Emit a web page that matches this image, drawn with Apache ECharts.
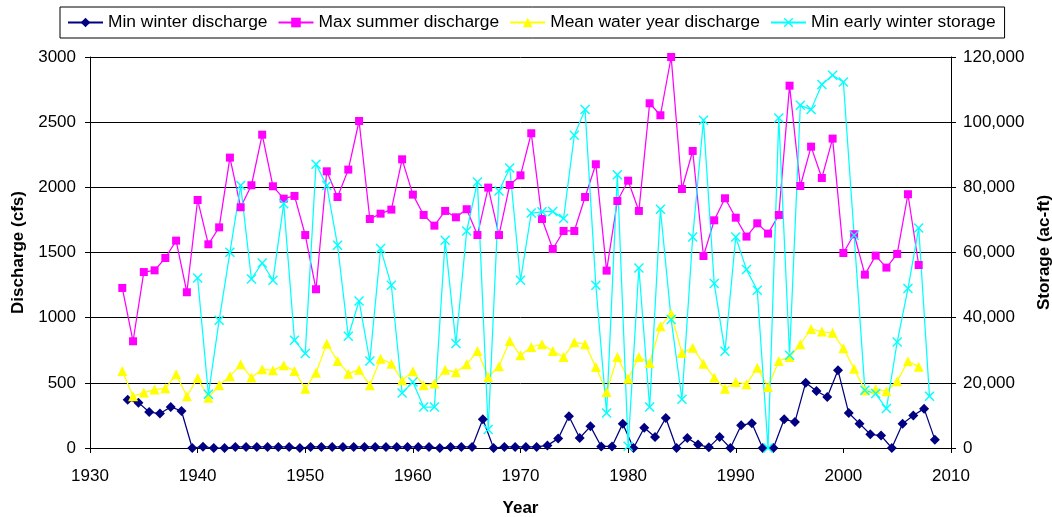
<!DOCTYPE html>
<html>
<head>
<meta charset="utf-8">
<script src="https://cdn.jsdelivr.net/npm/echarts@6/dist/echarts.min.js"></script>
<style>
  html, body { margin: 0; padding: 0; background: #fff; }
  #chart { width: 1052px; height: 517px; }
</style>
</head>
<body>
<div id="chart"></div>
<script>
// series names
var seriesNames = ['Min winter discharge', 'Max summer discharge', 'Mean water year discharge', 'Min early winter storage'];

// first and last year of each record
function yearRange(a, b) {
  var out = [];
  for (var y = a; y <= b; y++) out.push(y);
  return out;
}
var winterYears = yearRange(1933, 2008);   // winter starting in that year
var summerYears = yearRange(1933, 2007);
var meanYears = yearRange(1933, 2007);
var storageYears = yearRange(1940, 2008);

// Min winter discharge (cfs)
var minWinter = [
  371, 348, 276, 264, 315, 284, 0, 10, 0, 0,
  8, 8, 8, 8, 8, 8, 0, 8, 8, 8,
  8, 8, 8, 8, 8, 8, 8, 8, 8, 0,
  8, 8, 8, 220, 0, 8, 8, 8, 8, 20,
  72, 243, 77, 166, 12, 12, 187, 0, 156, 85,
  230, 0, 77, 26, 5, 85, 0, 174, 190, 0,
  0, 220, 200, 501, 437, 391, 596, 268, 187, 105,
  95, 0, 187, 249, 302, 64
];

// Max summer discharge (cfs)
var maxSummer = [
  1228, 819, 1350, 1363, 1458, 1591, 1195, 1903, 1563, 1693,
  2228, 1847, 2016, 2404, 2008, 1913, 1934, 1634, 1218, 2123,
  1926, 2136, 2509, 1757, 1798, 1829, 2215, 1944, 1788, 1706,
  1819, 1770, 1832, 1634, 1998, 1634, 2018, 2092, 2415, 1757,
  1527, 1665, 1665, 1926, 2177, 1361, 1895, 2051, 1819, 2645,
  2553, 3000, 1987, 2279, 1473, 1747, 1916, 1767, 1622, 1724,
  1645, 1788, 2780, 2010, 2312, 2072, 2374, 1496, 1640, 1330,
  1476, 1384, 1489, 1947, 1404
];

// Mean water year discharge (cfs)
var meanYear = [
  591, 397, 425, 448, 458, 565, 397, 537, 386, 481,
  550, 642, 540, 604, 596, 634, 591, 455, 578, 800,
  668, 570, 601, 481, 685, 647, 519, 588, 481, 494,
  601, 581, 642, 744, 545, 627, 821, 711, 775, 796,
  744, 698, 811, 796, 622, 430, 698, 532, 698, 652,
  934, 1031, 729, 770, 647, 540, 455, 506, 490, 616,
  468, 668, 698, 796, 913, 893, 884, 765, 609, 443,
  450, 436, 513, 666, 624
];

// Min early winter storage (ac-ft)
var minStorage = [
  52170, 16480, 39190, 60060, 80530, 51870, 56780, 51470, 75000, 33050,
  28970, 87070, 80530, 62210, 34280, 45120, 26700, 61200, 49930, 16880,
  20260, 12580, 12580, 63740, 32040, 66600, 81640, 5650, 78870, 85930,
  51470, 72120, 72500, 72600, 70400, 95970, 103850, 49930, 10740, 83900,
  500, 55240, 12580, 73260, 39400, 14950, 64760, 100570, 50450, 29680,
  64760, 54750, 48400, 0, 101280, 28450, 105170, 103850, 111530, 114380,
  112330, 65280, 17710, 16690, 12090, 32530, 48920, 67520, 15870
];

function pairs(xs, vs, shift) {
  return xs.map(function (x, i) { return [x + shift, vs[i]]; });
}

var font = 'Liberation Sans, Arial, sans-serif';
var crossPath = 'path://M0,1L1,0L5,4L9,0L10,1L6,5L10,9L9,10L5,6L1,10L0,9L4,5Z';

var chart = echarts.init(document.getElementById('chart'));

var option = {
  animation: false,
  backgroundColor: '#fff',
  textStyle: { fontFamily: font },
  legend: {
    left: 60,
    top: 7,
    padding: [7, 9, 7, 7],
    itemGap: 10,
    itemWidth: 35,
    itemHeight: 12,
    borderColor: '#000',
    borderWidth: 1,
    textStyle: { fontSize: 17.4, color: '#000', fontFamily: font },
    data: seriesNames
  },
  grid: { left: 90, right: 101, top: 57, bottom: 69, containLabel: false, outerBoundsMode: 'none' },
  xAxis: {
    type: 'value',
    min: 1930,
    max: 2010,
    interval: 10,
    name: 'Year',
    nameLocation: 'middle',
    nameGap: 52,
    nameTextStyle: { fontSize: 17, fontWeight: 'bold', color: '#000' },
    axisLine: { lineStyle: { color: '#000', width: 1 } },
    axisTick: { show: true, length: 5, lineStyle: { color: '#000' } },
    axisLabel: { fontSize: 17, color: '#000', margin: 20, formatter: function (v) { return String(v); } },
    splitLine: { show: false }
  },
  yAxis: [
    {
      type: 'value',
      min: 0,
      max: 3000,
      interval: 500,
      name: 'Discharge (cfs)',
      nameLocation: 'middle',
      nameGap: 63,
      nameTextStyle: { fontSize: 17, fontWeight: 'bold', color: '#000' },
      axisLine: { show: true, lineStyle: { color: '#000', width: 1 } },
      axisTick: { show: true, length: 5, lineStyle: { color: '#000' } },
      axisLabel: { fontSize: 17, color: '#000', margin: 14, formatter: function (v) { return String(v); } },
      splitLine: { show: true, lineStyle: { color: '#000', width: 1 } }
    },
    {
      type: 'value',
      min: 0,
      max: 120000,
      interval: 20000,
      name: 'Storage (ac-ft)',
      nameLocation: 'middle',
      nameGap: 83,
      nameTextStyle: { fontSize: 17, fontWeight: 'bold', color: '#000' },
      axisLine: { show: true, lineStyle: { color: '#000', width: 1 } },
      axisTick: { show: true, length: 5, lineStyle: { color: '#000' } },
      axisLabel: {
        fontSize: 17, color: '#000', margin: 12,
        formatter: function (v) { return v.toLocaleString('en-US'); }
      },
      splitLine: { show: false }
    }
  ],
  series: [
    {
      name: seriesNames[0],
      type: 'line',
      data: pairs(winterYears, minWinter, 0.5),
      symbol: 'diamond',
      symbolSize: 10,
      color: '#000080',
      lineStyle: { width: 1.25, color: '#000080' },
      itemStyle: { color: '#000080' }
    },
    {
      name: seriesNames[1],
      type: 'line',
      data: pairs(summerYears, maxSummer, 0),
      symbol: 'rect',
      symbolSize: 8,
      color: '#FF00FF',
      lineStyle: { width: 1.25, color: '#FF00FF' },
      itemStyle: { color: '#FF00FF' }
    },
    {
      name: seriesNames[2],
      type: 'line',
      data: pairs(meanYears, meanYear, 0),
      symbol: 'triangle',
      symbolSize: 10,
      color: '#FFFF00',
      lineStyle: { width: 1.25, color: '#FFFF00' },
      itemStyle: { color: '#FFFF00' }
    },
    {
      name: seriesNames[3],
      type: 'line',
      yAxisIndex: 1,
      data: pairs(storageYears, minStorage, 0),
      symbol: crossPath,
      symbolSize: 10,
      color: '#00FFFF',
      lineStyle: { width: 1.25, color: '#00FFFF' },
      itemStyle: { color: '#00FFFF' }
    }
  ]
};

chart.setOption(option);
</script>
</body>
</html>
